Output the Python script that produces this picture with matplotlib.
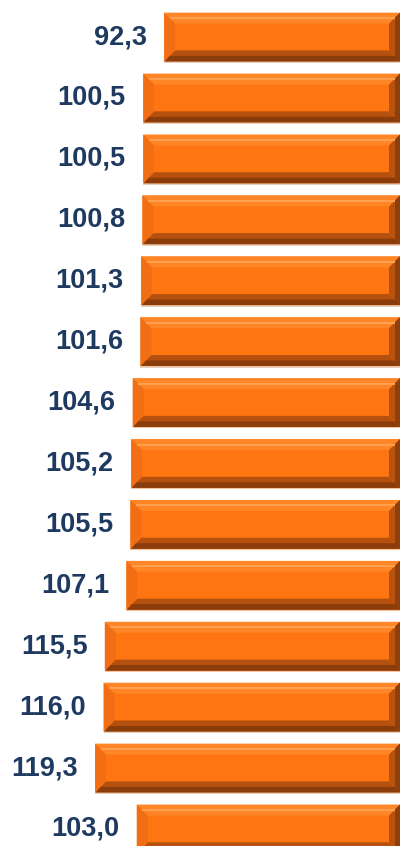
import matplotlib
matplotlib.use("Agg")
from matplotlib import pyplot as plt
from matplotlib.patches import Polygon

# values top to bottom
values = [92.3, 100.5, 100.5, 100.8, 101.3, 101.6, 104.6, 105.2, 105.5,
          107.1, 115.5, 116.0, 119.3, 103.0]
labels = [f"{v:.1f}".replace(".", ",") for v in values]

plt.rcParams['font.family'] = ['Liberation Sans', 'DejaVu Sans']

fig = plt.figure(figsize=(4.0, 8.46), dpi=100)
ax = fig.add_axes([0, 0, 1, 1])
ax.set_xlim(156.5, 0)
ax.set_ylim(13.28, -0.608)
ax.axis('off')

pos = list(range(len(values)))
h = 0.8
bars = ax.barh(pos, values, height=h, color='#FF7511', edgecolor='#F5C4A0',
               linewidth=0.8, zorder=2)

# bevel size in pixels -> data units
px_x = 2.556
px_y = 60.9
dx = 11 / px_x
dy = 11 / px_y
for b in bars:
    L = b.get_x() + b.get_width()
    R = b.get_x()
    T = b.get_y()
    B = b.get_y() + b.get_height()
    # shadow
    ax.add_patch(Polygon([(L, B), (R, B), (R, B + 0.025), (L, B + 0.025)],
                         closed=True, color='#E2D0C2', lw=0, zorder=1))
    faces = [
        ([(L, T), (R, T), (R + dx, T + dy), (L - dx, T + dy)], '#FF8526'),
        ([(L, B), (R, B), (R + dx, B - dy), (L - dx, B - dy)], '#B5500E'),
        ([(L, T), (L - dx, T + dy), (L - dx, B - dy), (L, B)], '#F26E14'),
        ([(R, T), (R + dx, T + dy), (R + dx, B - dy), (R, B)], '#B8520F'),
    ]
    for pts, c in faces:
        ax.add_patch(Polygon(pts, closed=True, color=c, lw=0, zorder=3))
    # darker band at the bottom of the lower bevel
    ax.add_patch(Polygon([(L - 1 / px_x, B), (R, B), (R + dx * 0.5, B - dy * 0.5),
                          (L - dx * 0.5, B - dy * 0.5)],
                         closed=True, color='#8A3C0A', lw=0, zorder=3.5))
    # darker band at the right edge
    ax.add_patch(Polygon([(R, T), (R + dx * 0.45, T + dy * 0.45),
                          (R + dx * 0.45, B - dy * 0.45), (R, B)],
                         closed=True, color='#8E3F0B', lw=0, zorder=3.5))
    # highlight in top bevel
    ax.plot([L - dx * 0.5, R + dx * 0.5], [T + dy * 0.5, T + dy * 0.5],
            color='#FFA050', lw=1.5, zorder=4, solid_capstyle='butt')

for i, v in enumerate(values):
    ax.annotate(labels[i], (v, i), xytext=(-12.5, 0), textcoords='offset points',
                ha='right', va='center', fontsize=19.5, fontweight='bold',
                color='#1F3A60')

fig.savefig("out.png", dpi=100)
